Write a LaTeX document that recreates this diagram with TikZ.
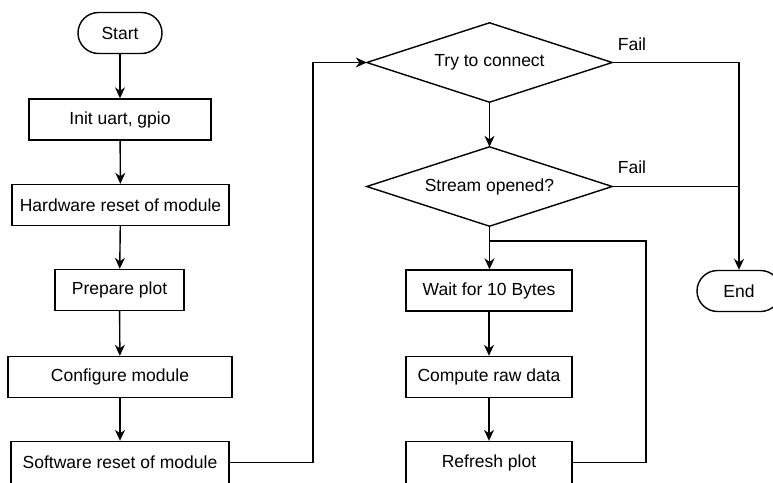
\documentclass[tikz,border=0pt]{standalone}
\usepackage{fontspec}
\setmainfont{Liberation Sans}
\usetikzlibrary{arrows.meta}
\begin{document}
\begin{tikzpicture}[x=1pt,y=-1pt,
  every node/.style={font=\fontsize{17.5}{20}\selectfont, inner sep=0pt},
  proc/.style={draw, line width=1.4pt, rectangle, minimum height=41pt},
  term/.style={draw, line width=1.4pt, rectangle, rounded corners=20.5pt, minimum width=84pt, minimum height=41pt},
  decisarea/.style={rectangle, minimum width=245pt, minimum height=79pt},
  decisline/.style={line width=1.4pt, line join=miter},
  conn/.style={line width=1.4pt},
  arr/.style={line width=1.4pt, -{Stealth[length=11pt,width=10pt]}},
  lbl/.style={}]
\useasboundingbox (0,0) rectangle (773,482);
\node[term] (start) at (120,33) {Start};
\node[proc, minimum width=182pt] (init) at (120,119.5) {Init uart, gpio};
\node[proc, minimum width=217pt] (hw) at (120.5,205) {Hardware reset of module};
\node[proc, minimum width=129pt] (prep) at (119.5,290) {Prepare plot};
\node[proc, minimum width=224pt] (conf) at (120,377) {Configure module};
\node[proc, minimum width=218pt, minimum height=42pt] (sw) at (120,462.5) {Software reset of module};
\node[decisarea] (try) at (489.5,62.5) {Try to connect};
\draw[decisline] (try.west) -- (try.north) -- (try.east) -- (try.south) -- cycle;
\node[decisarea] (stream) at (489.5,186.5) {Stream opened?};
\draw[decisline] (stream.west) -- (stream.north) -- (stream.east) -- (stream.south) -- cycle;
\node[proc, minimum width=166pt] (wait) at (489,290.5) {Wait for 10 Bytes};
\node[proc, minimum width=166pt] (comp) at (489,377) {Compute raw data};
\node[proc, minimum width=166pt, minimum height=42pt] (refr) at (489,462.5) {Refresh plot};
\node[term] (end) at (739,291) {End};
\node[lbl] (f1) at (632,44) {Fail};
\node[lbl] (f2) at (632,167) {Fail};
\coordinate (c1) at (313,462.5);
\coordinate (c2) at (313,62.5);
\coordinate (c3) at (739,62.5);
\coordinate (c4) at (739,186.5);
\coordinate (c5) at (646,462.5);
\coordinate (c6) at (646,241);
\coordinate (c7) at (489.5,241);
\draw[arr] (start) -- (init);
\draw[arr] (init) -- (hw);
\draw[arr] (hw) -- (prep);
\draw[arr] (prep) -- (conf);
\draw[arr] (conf) -- (sw);
\draw[arr] (sw.east) -- (c1) -- (c2) -- (try.west);
\draw[arr] (try.south) -- (stream.north);
\draw[arr] (stream.south) -- (stream.south |- wait.north);
\draw[arr] (wait) -- (comp);
\draw[arr] (comp) -- (refr);
\draw[conn] (refr.east) -- (c5) -- (c6) -- (c7);
\draw[arr] (try.east) -- (c3) -- (end.north);
\draw[conn] (stream.east) -- (c4);
\end{tikzpicture}
\end{document}
